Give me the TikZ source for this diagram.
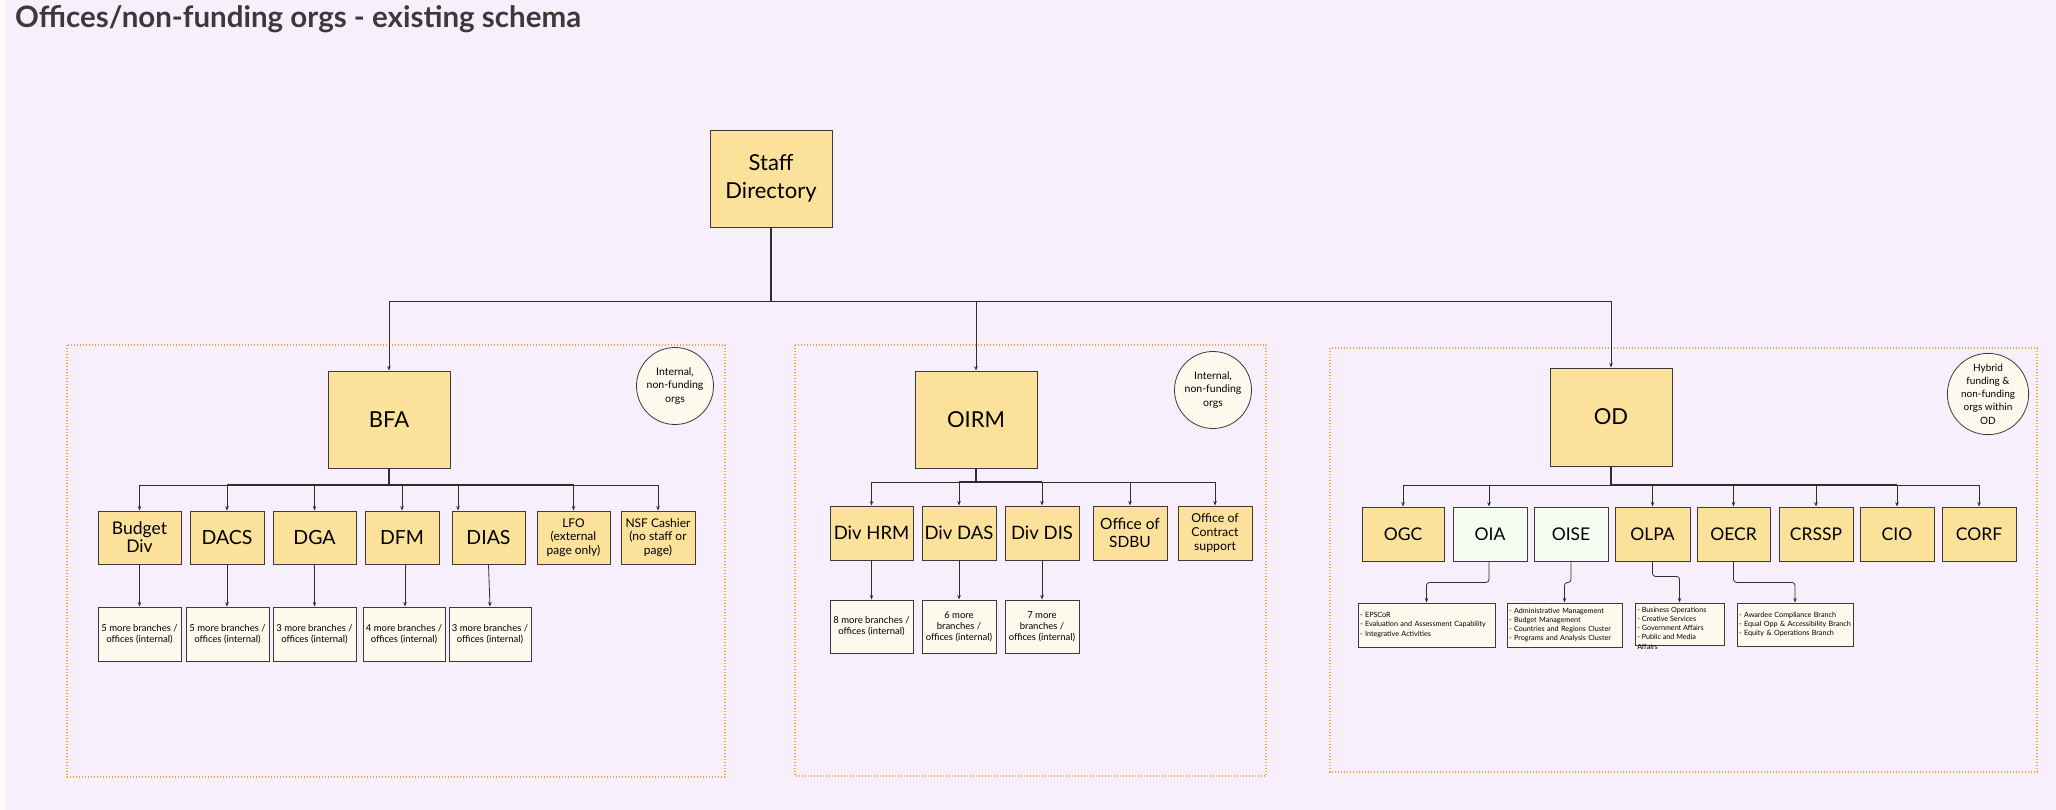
\documentclass[tikz,border=0pt]{standalone}
\usepackage{fontspec}
\setmainfont{Lato}
\usetikzlibrary{arrows.meta}
\definecolor{bgc}{HTML}{F7F0FC}
\definecolor{stripc}{HTML}{FAFBFA}
\definecolor{yel}{HTML}{FBE199}
\definecolor{cream}{HTML}{FDF9EC}
\definecolor{mint}{HTML}{F5FCF0}
\definecolor{bordc}{HTML}{3A3A3A}
\definecolor{linec}{HTML}{2E2E2E}
\definecolor{dashc}{HTML}{F3A73E}
\definecolor{titlec}{HTML}{3A3A3A}
\begin{document}
\begin{tikzpicture}[x=1pt,y=-1pt,
  box/.style={draw=bordc, line width=0.9pt, fill=yel, inner sep=1pt, align=center, text=black},
  subbox/.style={box, fill=cream},
  mintbox/.style={box, fill=mint},
  note/.style={draw=bordc, line width=0.8pt, fill=cream, circle, inner sep=0pt, minimum size=77pt, align=center, font=\fontsize{10.5}{13.5}\selectfont},
  frame/.style={draw=dashc, line width=1.4pt, dash pattern=on 1.3pt off 1.7pt},
  conn/.style={draw=linec, line width=0.8pt},
  stem/.style={draw=linec, line width=2pt},
  arr/.style={conn, -{Stealth[length=4.5pt,width=3.5pt]}},
  fbig/.style={font=\fontsize{22}{28}\selectfont},
  fmid/.style={font=\fontsize{18.5}{22}\selectfont},
  ftiny/.style={font=\fontsize{9.5}{11}\selectfont},
  fmicro/.style={font=\fontsize{7.2}{9.3}\selectfont}
]
\useasboundingbox (0,0) rectangle (2056,810);
\fill[bgc] (0,0) rectangle (2056,810);
\fill[stripc] (0,0) rectangle (5,810);

% title
\node[anchor=west, inner sep=0pt, text=titlec, font=\fontsize{29.5}{34}\selectfont\bfseries] (title) at (15,19) {Offices/non-funding orgs - existing schema};

% dashed frames
\draw[frame] (67,345) rectangle (725,777);
\draw[frame] (795,345) rectangle (1266,776);
\draw[frame] (1330,348) rectangle (2037,772);

% top
\node[box, fbig, minimum width=122pt, minimum height=97pt] (sd) at (771,178.5) {Staff\\Directory};
\node[box, fbig, minimum width=122pt, minimum height=97pt] (bfa) at (389,419.5) {BFA};
\node[box, fbig, minimum width=122pt, minimum height=97pt] (oirm) at (976,419.5) {OIRM};
\node[box, fbig, minimum width=122pt, minimum height=98pt] (od) at (1611,417) {OD};

\coordinate (sdbus) at (771,301);
\draw[stem] (sd.south) -- (sdbus);
\draw[arr] (sdbus) -| (bfa.north);
\draw[arr] (sdbus) -| (oirm.north);
\draw[arr] (sdbus) -| (od.north);

% notes
\node[note] (n1) at (675,386) {Internal,\\non-funding\\orgs};
\node[note] (n2) at (1213,390) {Internal,\\non-funding\\orgs};
\node[note, font=\fontsize{10}{13.3}\selectfont] (n3) at (1988,394) {Hybrid\\funding \&\\non-funding\\orgs within\\OD};

% BFA children
\node[box, font=\fontsize{17.5}{18}\selectfont, minimum width=83pt, minimum height=53pt] (bud) at (139.5,537.5) {Budget\\Div};
\node[box, font=\fontsize{19.5}{22}\selectfont, minimum width=74pt, minimum height=53pt] (dacs) at (227,537.5) {DACS};
\node[box, font=\fontsize{19.5}{22}\selectfont, minimum width=83pt, minimum height=53pt] (dga) at (314.5,537.5) {DGA};
\node[box, font=\fontsize{19.5}{22}\selectfont, minimum width=74pt, minimum height=53pt] (dfm) at (402,537.5) {DFM};
\node[box, font=\fontsize{19.5}{22}\selectfont, minimum width=73pt, minimum height=53pt] (dias) at (488.5,537.5) {DIAS};
\node[box, font=\fontsize{12}{13.5}\selectfont, minimum width=73pt, minimum height=53pt] (lfo) at (573.5,537.5) {LFO\\(external\\page only)};
\node[box, font=\fontsize{12}{13.5}\selectfont, minimum width=74pt, minimum height=53pt] (nsf) at (658,537.5) {NSF Cashier\\(no staff or\\page)};

\coordinate (bfabus) at (389,485);
\draw[stem] (bfa.south) -- (bfabus);
\draw[arr] (bfabus) -| (bud.north);
\draw[arr] (bfabus) -| (dacs.north);
\draw[arr] (bfabus) -| (dga.north);
\draw[arr] (bfabus) -| (dfm.north);
\draw[arr] (bfabus) -| ([xshift=-30.5pt]dias.north);
\draw[arr] (bfabus) -| (lfo.north);
\draw[arr] (bfabus) -| (nsf.north);
\draw[conn, line width=1.6pt] (dacs.north |- bfabus) -- (lfo.north |- bfabus);

% BFA sub boxes
\node[subbox, ftiny, minimum width=83pt, minimum height=54pt] (b1) at (139.5,634) {5 more branches /\\offices (internal)};
\node[subbox, ftiny, minimum width=83pt, minimum height=54pt] (b2) at (227.5,634) {5 more branches /\\offices (internal)};
\node[subbox, ftiny, minimum width=83pt, minimum height=54pt] (b3) at (314.5,634) {3 more branches /\\offices (internal)};
\node[subbox, ftiny, minimum width=82pt, minimum height=54pt] (b4) at (404,634) {4 more branches /\\offices (internal)};
\node[subbox, ftiny, minimum width=82pt, minimum height=54pt] (b5) at (490,634) {3 more branches /\\offices (internal)};
\draw[arr] (bud.south) -- (bud.south |- b1.north);
\draw[arr] (dacs.south) -- (dacs.south |- b2.north);
\draw[arr] (dga.south) -- (dga.south |- b3.north);
\draw[arr] ([xshift=3pt]dfm.south) -- ([xshift=3pt]dfm.south |- b4.north);
\draw[arr] (dias.south) -- (b5.north);

% OIRM children
\node[box, fmid, minimum width=83pt, minimum height=54pt] (hrm) at (871.5,533) {Div HRM};
\node[box, fmid, minimum width=74pt, minimum height=54pt] (das) at (959,533) {Div DAS};
\node[box, fmid, minimum width=74pt, minimum height=54pt] (dis) at (1042,533) {Div DIS};
\node[box, font=\fontsize{15.5}{18}\selectfont, minimum width=74pt, minimum height=54pt] (sdbu) at (1130,533) {Office of\\SDBU};
\node[box, font=\fontsize{12.3}{14}\selectfont, minimum width=74pt, minimum height=54pt] (ocs) at (1215,533) {Office of\\Contract\\support};

\coordinate (oirmbus) at (976,482);
\draw[stem] (oirm.south) -- (oirmbus);
\draw[arr] (oirmbus) -| (hrm.north);
\draw[arr] (oirmbus) -| (das.north);
\draw[arr] (oirmbus) -| (dis.north);
\draw[arr] (oirmbus) -| (sdbu.north);
\draw[arr] (oirmbus) -| (ocs.north);
\draw[conn, line width=1.6pt] (das.north |- oirmbus) -- (dis.north |- oirmbus);

\node[subbox, ftiny, minimum width=83pt, minimum height=53pt] (r1) at (871.5,626.5) {8 more branches /\\offices (internal)};
\node[subbox, ftiny, minimum width=74pt, minimum height=53pt] (r2) at (959,626.5) {6 more\\branches /\\offices (internal)};
\node[subbox, ftiny, minimum width=74pt, minimum height=53pt] (r3) at (1042,626.5) {7 more\\branches /\\offices (internal)};
\draw[arr] (hrm.south) -- (r1.north);
\draw[arr] (das.south) -- (r2.north);
\draw[arr] (dis.south) -- (r3.north);

% OD children
\node[box, font=\fontsize{17.5}{20}\selectfont, minimum width=82pt, minimum height=54pt] (ogc) at (1403,534) {OGC};
\node[mintbox, font=\fontsize{17.5}{20}\selectfont, minimum width=74pt, minimum height=54pt] (oia) at (1490,534) {OIA};
\node[mintbox, font=\fontsize{17.5}{20}\selectfont, minimum width=74pt, minimum height=54pt] (oise) at (1571,534) {OISE};
\node[box, font=\fontsize{17.5}{20}\selectfont, minimum width=75pt, minimum height=54pt] (olpa) at (1652.5,534) {OLPA};
\node[box, font=\fontsize{17.5}{20}\selectfont, minimum width=73pt, minimum height=54pt] (oecr) at (1733.5,534) {OECR};
\node[box, font=\fontsize{17.5}{20}\selectfont, minimum width=74pt, minimum height=54pt] (crssp) at (1816,534) {CRSSP};
\node[box, font=\fontsize{17.5}{20}\selectfont, minimum width=74pt, minimum height=54pt] (cio) at (1897,534) {CIO};
\node[box, font=\fontsize{17.5}{20}\selectfont, minimum width=74pt, minimum height=54pt] (corf) at (1979,534) {CORF};

\coordinate (odbus) at (1611,485);
\draw[stem] (od.south) -- (odbus);
\draw[arr] (odbus) -| (ogc.north);
\draw[arr] (odbus) -| ([xshift=-1pt]oia.north);
\draw[arr] (odbus) -| (olpa.north);
\draw[arr] (odbus) -| (oecr.north);
\draw[arr] (odbus) -| (crssp.north);
\draw[arr] (odbus) -| (cio.north);
\draw[arr] (odbus) -| (corf.north);
\draw[conn, line width=1.6pt] (odbus) -- (cio.north |- odbus);

% OD sub boxes
\node[subbox, fmicro, align=left, text width=133pt, inner sep=2pt, minimum width=137pt, minimum height=44pt] (e1) at (1426.5,625) {- EPSCoR\\- Evaluation and Assessment Capability\\- Integrative Activities};
\node[subbox, fmicro, align=left, text width=111pt, inner sep=2pt, minimum width=115pt, minimum height=44pt] (e2) at (1564.5,625) {- Administrative Management\\- Budget Management\\- Countries and Regions Cluster\\- Programs and Analysis Cluster};
\node[subbox, minimum width=89pt, minimum height=42pt] (e3) at (1679.5,624) {};
\begin{scope}
\clip (e3.north west) rectangle ([yshift=-3pt]e3.south east);
\node[anchor=north west, inner sep=0pt, align=left, fmicro, text=black] (e3t) at ([xshift=2.5pt,yshift=-4pt]e3.north west) {- Business Operations\\- Creative Services\\- Government Affairs\\- Public and Media\\Affairs};
\end{scope}
\node[subbox, fmicro, align=left, text width=112pt, inner sep=2pt, minimum width=116pt, minimum height=43pt] (e4) at (1795,624.5) {\mbox{- Awardee Compliance Branch}\\\mbox{- Equal Opp \& Accessibility Branch}\\\mbox{- Equity \& Operations Branch}};

\draw[arr, rounded corners=3pt] ([xshift=-1pt]oia.south) -- ++(0,21) -| (e1.north);
\draw[arr, rounded corners=3pt] (oise.south) -- ++(0,21) -| (e2.north);
\draw[arr, rounded corners=3pt] (olpa.south) -- ++(0,15) -| (e3.north);
\draw[arr, rounded corners=3pt] (oecr.south) -- ++(0,21) -| (e4.north);
\end{tikzpicture}
\end{document}
